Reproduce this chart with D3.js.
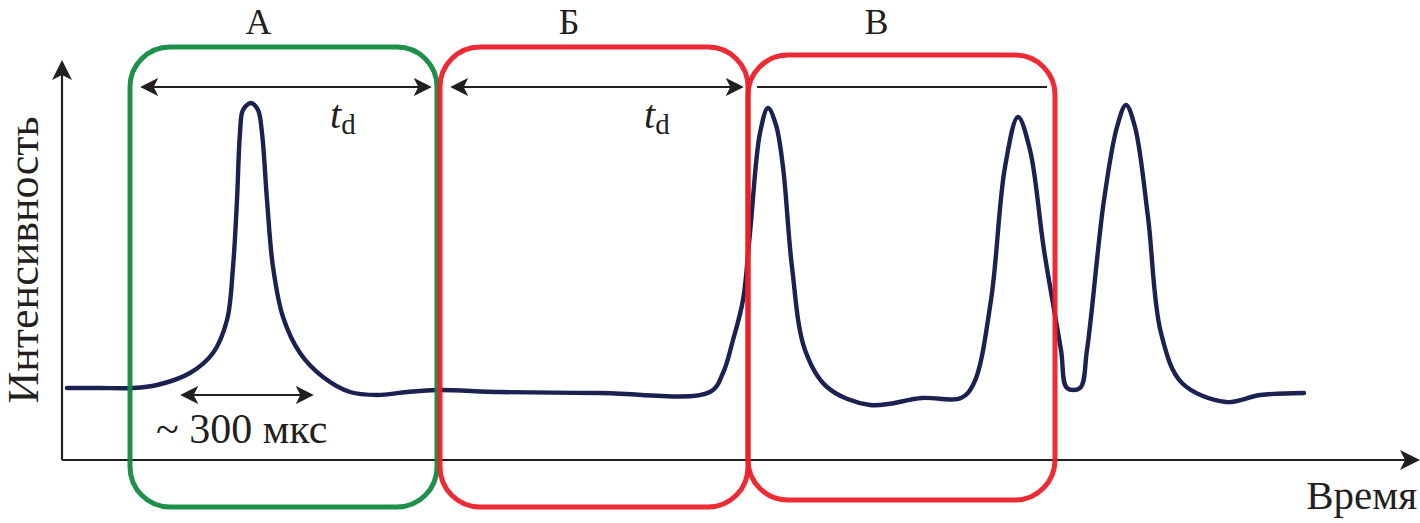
<!DOCTYPE html>
<html>
<head>
<meta charset="utf-8">
<script src="https://cdn.jsdelivr.net/npm/d3@7.9.0/dist/d3.min.js"></script>
<style>
  html, body { margin: 0; padding: 0; background: #fff; }
  svg { display: block; }
</style>
</head>
<body>
<svg id="chart" width="1420" height="523"></svg>
<script>
// trace: time (arb. units) and intensity (arb. units)
const traceTime = [1.25, 9.5, 17.75, 23.75, 32, 37.75, 41.25, 42.75, 43.75, 44.5, 45.25, 47.25, 49, 50,
  51.25, 52.75, 55.25, 59.5, 65.25, 72, 78.75, 86.25, 93.75, 109.5, 134.5, 162, 165.25, 167.75,
  170.25, 172, 174.5, 176.5, 178.5, 180.25, 182.5, 185.75, 191.25, 202, 215, 224.75, 228, 232.25,
  235.75, 239, 242, 245.5, 249.75, 251.25, 254.5, 256.25, 260.5, 263.75, 266, 268.25, 271.5,
  274.75, 280, 291, 299.5, 310.5];
const traceIntensity = [18, 18, 18, 18.75, 21.75, 26.75, 35, 48.25, 65, 81.75, 87.5, 89.25, 87.5, 81.75,
  65, 48.25, 35.75, 26.75, 20.75, 17, 16.25, 17, 17.5, 17, 16.75, 17, 21.75, 30,
  40, 56.75, 81.75, 88, 83.75, 73.25, 48.25, 27.5, 18.25, 13.75, 15.5, 15.5, 19.25, 40,
  73.25, 85.75, 77.5, 52.5, 27.5, 18, 18, 27.5, 65, 83.25, 88.75, 83.25, 60.75,
  31.75, 19.25, 14.5, 16.25, 16.75];

// detection windows
const windowLabels = ["А", "Б", "В"];
const windowStart = [17, 94.5, 171.5];
const windowEnd = [93.75, 171.5, 248.25];
const windowTop = [103.25, 103.25, 101.25];
const windowBottom = [-11.75, -11.75, -10];
const windowColors = ["#138a42", "#ec2029", "#ec2029"];

// t_d spans (arrow / plain line)
const spanStart = [20, 97.5, 173.75];
const spanEnd = [92, 170, 246.25];
const spanArrows = [true, true, false];
const spanLevel = 93.25;

// peak width marker
const widthStart = 30, widthEnd = 62.5, widthLevel = 16.25;

const svg = d3.select('#chart');

const x = d3.scaleLinear().domain([0, 340]).range([62, 1422]);
const y = d3.scaleLinear().domain([0, 100]).range([460, 60]);

// arrow markers
const defs = svg.append('defs');
function marker(id, size) {
  defs.append('marker')
    .attr('id', id)
    .attr('viewBox', '0 0 10 10')
    .attr('refX', 9).attr('refY', 5)
    .attr('markerUnits', 'userSpaceOnUse')
    .attr('markerWidth', size).attr('markerHeight', size)
    .attr('orient', 'auto-start-reverse')
    .append('path')
    .attr('d', 'M0,0 L10,5 L0,10 L2.5,5 Z')
    .attr('fill', '#231f20');
}
marker('arrowAxis', 20);
marker('arrowSpan', 18);

// axes, no ticks
const xAxis = svg.append('g')
  .attr('transform', `translate(0,${y(0)})`)
  .call(d3.axisBottom(x).tickValues([]).tickSizeOuter(0));
xAxis.select('.domain')
  .attr('stroke', '#231f20').attr('stroke-width', 2.2)
  .attr('d', `M${x(0)},0H${x(339)}`)
  .attr('marker-end', 'url(#arrowAxis)');

const yAxis = svg.append('g')
  .attr('transform', `translate(${x(0)},0)`)
  .call(d3.axisLeft(y).tickValues([]).tickSizeOuter(0));
yAxis.select('.domain')
  .attr('stroke', '#231f20').attr('stroke-width', 2.2)
  .attr('d', `M0,${y(0)}V${y(99.5)}`)
  .attr('marker-end', 'url(#arrowAxis)');

// trace
const traceData = traceTime.map((t, i) => ({ t, v: traceIntensity[i] }));
const line = d3.line()
  .x(d => x(d.t))
  .y(d => y(d.v))
  .curve(d3.curveCatmullRom.alpha(0.5));

svg.append('path')
  .datum(traceData)
  .attr('d', line)
  .attr('fill', 'none')
  .attr('stroke', '#1b2150')
  .attr('stroke-width', 4.4)
  .attr('stroke-linejoin', 'round')
  .attr('stroke-linecap', 'round');

// t_d spans
spanStart.forEach((s, i) => {
  const l = svg.append('line')
    .attr('x1', x(s)).attr('x2', x(spanEnd[i]))
    .attr('y1', y(spanLevel)).attr('y2', y(spanLevel))
    .attr('stroke', '#231f20').attr('stroke-width', 2);
  if (spanArrows[i]) {
    l.attr('marker-start', 'url(#arrowSpan)').attr('marker-end', 'url(#arrowSpan)');
  }
});

const labels = svg.append('g')
  .attr('font-family', 'Liberation Serif')
  .attr('fill', '#231f20');

// t_d labels
[spanEnd[0] - 25, spanEnd[1] - 24.5].forEach(t => {
  const txt = labels.append('text')
    .attr('x', x(t)).attr('y', 128)
    .attr('font-size', 40);
  txt.append('tspan').attr('font-style', 'italic').text('t');
  txt.append('tspan').attr('font-size', 29).attr('dy', 6).text('d');
});

// peak width marker
svg.append('line')
  .attr('x1', x(widthStart)).attr('x2', x(widthEnd))
  .attr('y1', y(widthLevel)).attr('y2', y(widthLevel))
  .attr('stroke', '#231f20').attr('stroke-width', 2)
  .attr('marker-start', 'url(#arrowSpan)').attr('marker-end', 'url(#arrowSpan)');

labels.append('text')
  .attr('x', 156).attr('y', 443)
  .attr('font-size', 42)
  .text('~ 300 мкс');

// windows
windowLabels.forEach((lab, i) => {
  const x0 = x(windowStart[i]), x1 = x(windowEnd[i]);
  const y0 = y(windowTop[i]), y1 = y(windowBottom[i]);
  svg.append('rect')
    .attr('x', x0).attr('y', y0)
    .attr('width', x1 - x0).attr('height', y1 - y0)
    .attr('rx', 40).attr('ry', 40)
    .attr('fill', 'none')
    .attr('stroke', windowColors[i])
    .attr('stroke-width', 5)
    .attr('opacity', 0.95);

  labels.append('text')
    .attr('x', (x0 + x1) / 2 - 25).attr('y', 34)
    .attr('text-anchor', 'middle')
    .attr('font-size', 36)
    .text(lab);
});

// axis titles
labels.append('text')
  .attr('transform', 'translate(38,260) rotate(-90)')
  .attr('text-anchor', 'middle')
  .attr('font-size', 44)
  .text('Интенсивность');

labels.append('text')
  .attr('x', 1417).attr('y', 509)
  .attr('text-anchor', 'end')
  .attr('font-size', 41)
  .text('Время');
</script>
</body>
</html>
